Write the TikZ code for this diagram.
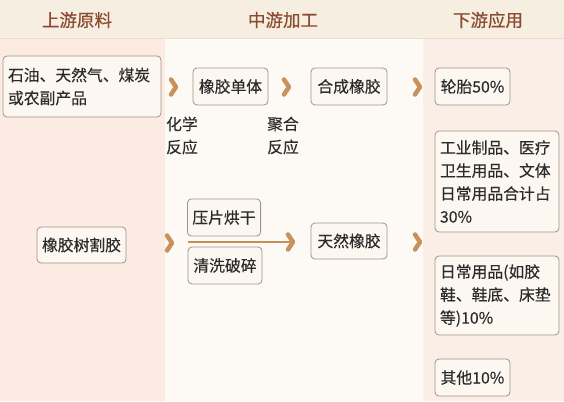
\documentclass[tikz,border=0pt]{standalone}
\usepackage{fontspec}
\setmainfont{Noto Sans CJK SC}
\newfontfamily\headfont[FakeBold=0.6]{Noto Sans CJK SC}
\newfontfamily\boxfont[FakeBold=0.25]{Noto Sans CJK SC}
\definecolor{headbg}{HTML}{F7EEE2}
\definecolor{leftbg}{HTML}{FCEBE2}
\definecolor{midbg}{HTML}{FDFAF6}
\definecolor{rightbg}{HTML}{FBEEE6}
\definecolor{headtxt}{HTML}{8A4B30}
\definecolor{boxline}{HTML}{A09288}
\definecolor{boxfill}{HTML}{FDF7F1}
\definecolor{chevcol}{HTML}{C8925C}
\definecolor{txt}{HTML}{2B2B2B}
\tikzset{
  head/.style={text=headtxt, font=\headfont\fontsize{17.5}{20}\selectfont},
  box/.style={draw=boxline, fill=boxfill, rounded corners=4pt, line width=0.8pt,
    inner xsep=5pt, inner ysep=0pt, text=txt, font=\boxfont\fontsize{15.8}{23}\selectfont},
  note/.style={text=txt, align=left, inner sep=0pt, font=\boxfont\fontsize{15.8}{23}\selectfont},
  chev/.style={draw=chevcol, line width=4.5pt, line cap=round, line join=round},
  flow/.style={draw=chevcol!85!brown, line width=2.8pt}
}
\begin{document}
\begin{tikzpicture}[x=1pt,y=-1pt]
  \useasboundingbox (0,0) rectangle (564,401);
  % backgrounds
  \fill[headbg] (0,0) rectangle (564,38);
  \fill[leftbg] (0,38) rectangle (165,401);
  \fill[midbg] (165,38) rectangle (423,401);
  \fill[rightbg] (423,38) rectangle (564,401);
  \draw[headbg!85!brown, line width=0.6pt] (0,38) -- (564,38);
  % titles
  \draw
    (77,20) node[head] (up){上游原料}
    (283,20) node[head] (mid){中游加工}
    (488,20) node[head] (down){下游应用};
  % boxes
  \draw
    (82,86.5) node[box, minimum width=158pt, minimum height=61pt, text width=148pt, align=left] (src){石油、天然气、煤炭\\或农副产品}
    (230.5,86.5) node[box, minimum width=75pt, minimum height=37pt] (mono){橡胶单体}
    (349,86.5) node[box, minimum width=76pt, minimum height=37pt] (syn){合成橡胶}
    (472.5,86.5) node[box, minimum width=75pt, minimum height=37pt] (tire){轮胎50\%}
    (497,181.5) node[box, minimum width=124pt, minimum height=101pt, text width=114pt, align=left] (ind){工业制品、医疗\\卫生用品、文体\\日常用品合计占\\30\%}
    (81.5,245) node[box, minimum width=87pt, minimum height=36pt] (tap){橡胶树割胶}
    (224,217.5) node[box, minimum width=72pt, minimum height=37pt] (press){压片烘干}
    (225,265.5) node[box, minimum width=74pt, minimum height=37pt] (wash){清洗破碎}
    (349,241) node[box, minimum width=76pt, minimum height=36pt] (nat){天然橡胶}
    (497,295.5) node[box, minimum width=124pt, minimum height=79pt, text width=114pt, align=left] (daily){日常用品(如胶\\鞋、鞋底、床垫\\等)10\%}
    (472.5,377.5) node[box, minimum width=75pt, minimum height=37pt] (other){其他10\%};
  % labels
  \draw
    (182,135.5) node[note] (chem){化学\\反应}
    (283,135.5) node[note] (poly){聚合\\反应};
  % chevrons
  \coordinate (c1) at (176,87);
  \coordinate (c2) at (289,87);
  \coordinate (c3) at (420,87);
  \coordinate (c4) at (172,243);
  \coordinate (c5) at (420,242);
  \coordinate (c6) at (293,242);
  \coordinate (a0) at (188,242);
  \draw[flow] (a0) -- (c6);
  \foreach \c in {c1,c2,c3,c4,c5,c6}
    \draw[chev] ([shift={(-5,-7.5)}]\c) -- (\c) -- ([shift={(-5,7.5)}]\c);
\end{tikzpicture}
\end{document}
